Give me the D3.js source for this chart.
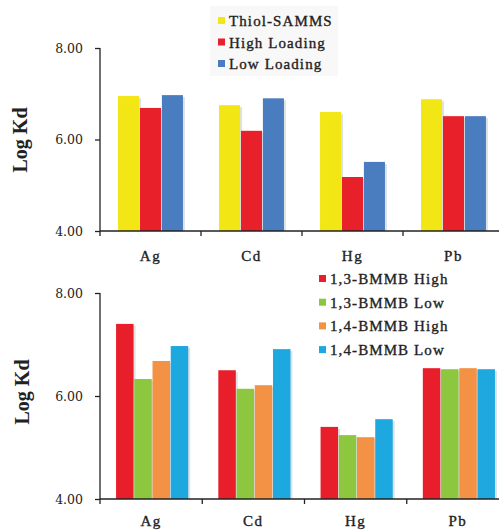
<!DOCTYPE html>
<html>
<head>
<meta charset="utf-8">
<title>Log Kd</title>
<script src="https://d3js.org/d3.v7.min.js"></script>
<style>
  body { margin: 0; background: #fff; }
  text { font-family: "Liberation Serif", "DejaVu Serif", serif; fill: #222; }
</style>
</head>
<body>
<div id="chart"></div>
<script>
// categories and ticks
const metals = ["Ag", "Cd", "Hg", "Pb"];
const yTicks = [4, 6, 8];

// top panel
const topSeries = ["Thiol-SAMMS", "High Loading", "Low Loading"];
const topColors = ["#f2e614", "#e82029", "#4a7cc0"];
const thiolSamms  = [6.95, 6.75, 6.60, 6.88];
const highLoading = [6.69, 6.19, 5.18, 6.51];
const lowLoading  = [6.97, 6.90, 5.51, 6.51];

// bottom panel
const botSeries = ["1,3-BMMB High", "1,3-BMMB Low", "1,4-BMMB High", "1,4-BMMB Low"];
const botColors = ["#e81e2a", "#8dc63f", "#f39244", "#1ea8e0"];
const bmmb13High = [7.40, 6.50, 5.40, 6.54];
const bmmb13Low  = [6.33, 6.14, 5.24, 6.52];
const bmmb14High = [6.68, 6.21, 5.20, 6.54];
const bmmb14Low  = [6.97, 6.91, 5.55, 6.52];

const svg = d3.select("#chart").append("svg")
    .attr("width", 499).attr("height", 531);

function panel(opt) {
    const g = svg.append("g");
    const x0 = d3.scaleBand().domain(metals).range([opt.left, opt.right]);
    const x1 = d3.scaleBand().domain(opt.series)
        .range([x0.bandwidth() * opt.gIn, x0.bandwidth() * opt.gOut]).padding(0.04);
    const y = d3.scaleLinear().domain([4, 8]).range([opt.bottom, opt.top]);

    const rows = metals.map((m, i) => ({m: m, vals: opt.values.map(v => v[i])}));

    const grp = g.selectAll("g.cat").data(rows).enter().append("g")
        .attr("transform", d => "translate(" + x0(d.m) + ",0)");

    // faint shadow
    grp.selectAll("rect.sh").data(d => d.vals).enter().append("rect")
        .attr("x", (d, i) => x1(opt.series[i]) + 2)
        .attr("y", d => y(d) + 2)
        .attr("width", x1.bandwidth())
        .attr("height", d => opt.bottom - y(d) - 2)
        .attr("fill", "#dde2e4");

    grp.selectAll("rect.bar").data(d => d.vals).enter().append("rect")
        .attr("x", (d, i) => x1(opt.series[i]))
        .attr("y", d => y(d))
        .attr("width", x1.bandwidth())
        .attr("height", d => opt.bottom - y(d))
        .attr("fill", (d, i) => opt.colors[i]);

    // y axis
    const yAxis = d3.axisLeft(y).tickValues(yTicks).tickFormat(d3.format(".2f")).tickSize(5).tickPadding(12);
    const ya = g.append("g").attr("transform", "translate(" + opt.left + ",0)").call(yAxis);
    ya.selectAll("text").attr("fill", "#333")
        .style("font-family", "'DejaVu Serif', serif").style("font-size", "12.5px");
    ya.selectAll("path, line").attr("stroke", "#222").attr("stroke-width", 1.3);
    ya.select("path").attr("d", "M0," + opt.top + "V" + opt.bottom);

    // x axis with ticks at category boundaries
    const xa = g.append("g").attr("transform", "translate(0," + opt.bottom + ")");
    xa.append("line").attr("x1", opt.left).attr("x2", 499)
        .attr("stroke", "#222").attr("stroke-width", 1.3);
    xa.selectAll("line.tk").data(metals).enter().append("line")
        .attr("x1", d => x0(d)).attr("x2", d => x0(d))
        .attr("y1", 0).attr("y2", 5)
        .attr("stroke", "#222").attr("stroke-width", 1.3);
    xa.selectAll("text").data(metals).enter().append("text")
        .attr("x", d => x0(d) + x0.bandwidth() / 2)
        .attr("y", opt.labelDy)
        .attr("text-anchor", "middle")
        .attr("font-size", 15)
        .attr("letter-spacing", 1.5)
        .attr("stroke", "#222").attr("stroke-width", 0.35)
        .text(d => d);

    // y title
    g.append("text")
        .attr("transform", "translate(" + opt.titleX + "," + opt.titleY + ") rotate(-90)")
        .attr("text-anchor", "middle")
        .attr("font-size", 20).attr("font-weight", "bold")
        .attr("fill", "#111")
        .text("Log Kd");

    // legend
    const lg = g.append("g");
    if (opt.legendBg) {
        lg.append("rect").attr("x", opt.legendBg[0]).attr("y", opt.legendBg[1])
            .attr("width", opt.legendBg[2]).attr("height", opt.legendBg[3]).attr("fill", "#f8f8f8");
    }
    const li = lg.selectAll("g.li").data(opt.series).enter().append("g")
        .attr("transform", (d, i) => "translate(" + opt.legendX + "," + (opt.legendY + i * opt.legendStep) + ")");
    li.append("rect").attr("x", 0).attr("y", -4).attr("width", 7).attr("height", 7)
        .attr("fill", (d, i) => opt.colors[i]);
    li.append("text").attr("x", 11).attr("y", 5)
        .attr("font-size", 15).attr("letter-spacing", 1.1)
        .attr("fill", "#222")
        .attr("stroke", "#222").attr("stroke-width", 0.35)
        .text(d => d);
}

panel({
    series: topSeries, colors: topColors,
    values: [thiolSamms, highLoading, lowLoading],
    left: 100, right: 504, top: 48, bottom: 231,
    gIn: 0.17, gOut: 0.83, labelDy: 30,
    titleX: 27, titleY: 140,
    legendX: 218, legendY: 21, legendStep: 21.5,
    legendBg: [210, 6, 128, 70]
});

panel({
    series: botSeries, colors: botColors,
    values: [bmmb13High, bmmb13Low, bmmb14High, bmmb14Low],
    left: 100, right: 509, top: 293, bottom: 499,
    gIn: 0.15, gOut: 0.87, labelDy: 27,
    titleX: 29, titleY: 392,
    legendX: 319, legendY: 279, legendStep: 23.7,
    legendBg: null
});
</script>
</body>
</html>
